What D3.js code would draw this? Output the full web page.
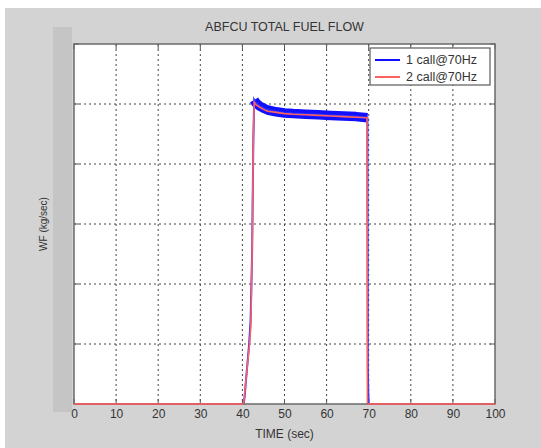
<!DOCTYPE html>
<html><head><meta charset="utf-8">
<script src="https://cdn.jsdelivr.net/npm/d3@7"></script>
<style>body{margin:0;background:#fff}svg{display:block}</style>
</head><body>
<svg id="c" width="541" height="448"></svg>
<script>
const title = "ABFCU TOTAL FUEL FLOW";
const xLabel = "TIME (sec)";
const yLabel = "WF (kg/sec)";
const xTicks = [0,10,20,30,40,50,60,70,80,90,100];
const yTicks = [0,1,2,3,4,5,6];
const seriesNames = ["1 call@70Hz","2 call@70Hz"];

const redTime  = [0, 40.3, 40.7, 41.2, 41.7, 42.0, 42.3, 42.6, 42.8, 43.2, 44, 45, 46, 48, 50, 52, 55, 58, 61, 64, 67, 69.6, 69.7, 100];
const redValue = [0, 0,    0.3,  0.65, 1.0,  1.3,  2.5,  4.4,  5.03, 4.99, 4.95,4.91,4.88,4.86,4.84,4.83,4.82,4.81,4.80,4.79,4.78,4.77, 0, 0];

const blueTime  = [0, 40.3, 40.5, 41.1, 41.6, 41.95, 42.3, 42.6, 42.8, 43.2, 44, 45, 46, 48, 50, 52, 55, 58, 61, 64, 67, 69.7, 69.8, 69.9, 70.0, 100];
const blueValue = [0, 0,    0.1,  0.6,  1.0,  1.4,   2.5,  4.4,  5.07, 5.02, 4.97,4.93,4.90,4.87,4.85,4.84,4.83,4.82,4.81,4.80,4.79,4.77, 0.6, 0.2, 0, 0];
const bluePlateauStart = 42.8, bluePlateauEnd = 69.7;

const svg = d3.select("#c");
const W = 541, H = 448;
const L = 74, R = 495, T = 44, B = 404;
const x = d3.scaleLinear().domain([0,100]).range([L,R]);
const y = d3.scaleLinear().domain([0,6]).range([B,T]);
const FONT = "Liberation Sans, Arial, sans-serif";

svg.append("rect").attr("x",0).attr("y",0).attr("width",W).attr("height",H).attr("fill","#ffffff");
svg.append("rect").attr("x",5).attr("y",8).attr("width",W-5).attr("height",H-8).attr("fill","#d3d3d3");
svg.append("rect").attr("x",53).attr("y",27).attr("width",19).attr("height",385).attr("fill","#c5c5c5");
svg.append("rect").attr("x",L).attr("y",T).attr("width",R-L).attr("height",B-T).attr("fill","#ffffff");

const g = svg.append("g");
g.selectAll(".vg").data(xTicks.slice(1,-1)).enter().append("line")
  .attr("x1",d=>x(d)).attr("x2",d=>x(d)).attr("y1",T).attr("y2",B)
  .attr("stroke","#444").attr("stroke-width",1).attr("stroke-dasharray","2,3");
g.selectAll(".hg").data(yTicks.slice(1,-1)).enter().append("line")
  .attr("x1",L).attr("x2",R).attr("y1",d=>y(d)).attr("y2",d=>y(d))
  .attr("stroke","#444").attr("stroke-width",1).attr("stroke-dasharray","2,3");

const xAxis = d3.axisBottom(x).tickValues(xTicks).tickSize(0).tickPadding(5);
const ax = svg.append("g").attr("transform",`translate(0,${B})`).call(xAxis);
ax.select(".domain").remove();
ax.selectAll("text").attr("font-family",FONT).attr("font-size","12px").attr("fill","#333");
svg.selectAll(".tb").data(xTicks).enter().append("line")
  .attr("x1",d=>x(d)).attr("x2",d=>x(d)).attr("y1",B).attr("y2",B-5).attr("stroke","#555");
svg.selectAll(".tt").data(xTicks).enter().append("line")
  .attr("x1",d=>x(d)).attr("x2",d=>x(d)).attr("y1",T).attr("y2",T+5).attr("stroke","#555");
svg.selectAll(".tl").data(yTicks).enter().append("line")
  .attr("x1",L).attr("x2",L+5).attr("y1",d=>y(d)).attr("y2",d=>y(d)).attr("stroke","#555");
svg.selectAll(".tr").data(yTicks).enter().append("line")
  .attr("x1",R).attr("x2",R-5).attr("y1",d=>y(d)).attr("y2",d=>y(d)).attr("stroke","#555");

const blueData = blueTime.map((t,i)=>({t, v: blueValue[i]}));
const redData = redTime.map((t,i)=>({t, v: redValue[i]}));
const line = d3.line().x(d=>x(d.t)).y(d=>y(d.v));
svg.append("path").datum(blueData.filter(d=>d.t>=bluePlateauStart && d.t<=bluePlateauEnd))
  .attr("d",line).attr("fill","none").attr("stroke","#1010ff").attr("stroke-width",9.5).attr("stroke-linejoin","round");
svg.append("path").datum(blueData).attr("d",line).attr("fill","none").attr("stroke","#3030ff").attr("stroke-width",2);
svg.append("path").datum(redData).attr("d",line).attr("fill","none").attr("stroke","#ff6060").attr("stroke-width",1.6);

svg.append("rect").attr("x",L).attr("y",T).attr("width",R-L).attr("height",B-T)
  .attr("fill","none").attr("stroke","#6a6a6a").attr("stroke-width",1.5);
const zeros = redData.filter(d=>d.v===0);
svg.append("path").datum(zeros.slice(0,2)).attr("d",line)
  .attr("fill","none").attr("stroke","#ff6060").attr("stroke-width",1.6);
svg.append("path").datum(zeros.slice(2)).attr("d",line)
  .attr("fill","none").attr("stroke","#ff6060").attr("stroke-width",1.6);

const lg = svg.append("g");
lg.append("rect").attr("x",370).attr("y",48).attr("width",120).attr("height",37)
  .attr("fill","#fff").attr("stroke","#5a5a5a").attr("stroke-width",1.2);
const colors = ["#1010ff","#ff6060"];
seriesNames.forEach((n,i)=>{
  const yy = 60 + i*17;
  lg.append("line").attr("x1",375).attr("x2",400).attr("y1",yy).attr("y2",yy).attr("stroke",colors[i]).attr("stroke-width",2);
  lg.append("text").attr("x",406).attr("y",yy+4).text(n)
    .attr("font-family",FONT).attr("font-size","12.5px").attr("fill","#333");
});

svg.append("text").attr("x",(L+R)/2).attr("y",31).attr("text-anchor","middle").text(title)
  .attr("font-family",FONT).attr("font-size","12.5px").attr("fill","#333");
svg.append("text").attr("x",(L+R)/2).attr("y",438).attr("text-anchor","middle").text(xLabel)
  .attr("font-family",FONT).attr("font-size","12px").attr("fill","#333");
svg.append("text").attr("transform",`translate(47,${(T+B)/2}) rotate(-90)`).attr("text-anchor","middle").text(yLabel)
  .attr("font-family",FONT).attr("font-size","10px").attr("fill","#333");
</script>
</body></html>
